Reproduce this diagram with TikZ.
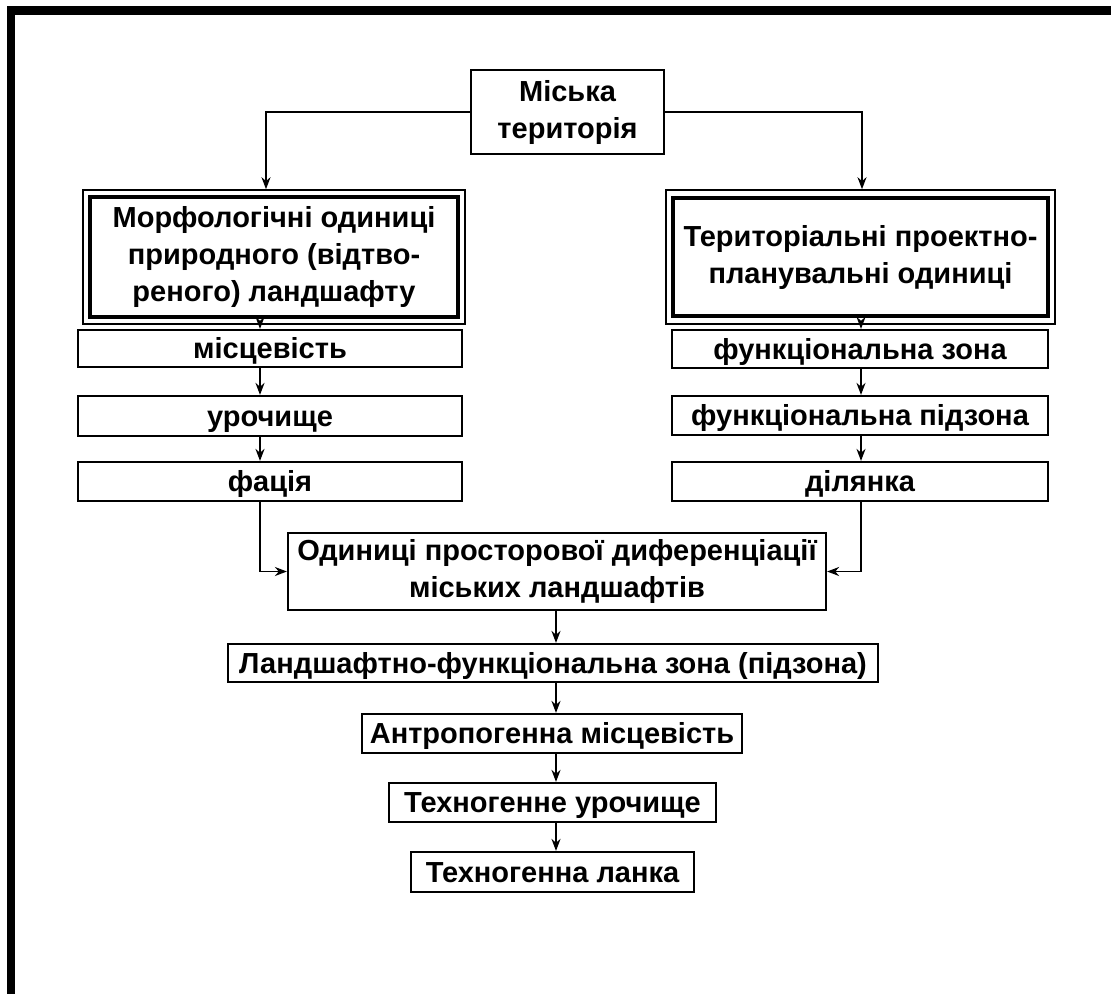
\documentclass[tikz,border=0pt]{standalone}
\usepackage{fontspec}
\setmainfont{Liberation Sans}
\usetikzlibrary{arrows.meta}

\begin{document}
\begin{tikzpicture}[x = 1pt, y = -1pt,
  box/.style = {draw, line width = 2.2pt, align = center, inner sep = 0pt,
    font = \bfseries\fontsize{29}{37}\selectfont},
  onebox/.style = {draw, line width = 2.2pt, inner sep = 0pt,
    text height = 21pt, text depth = 1pt,
    font = \bfseries\fontsize{29}{37}\selectfont},
  inbox/.style = {box, line width = 4pt},
  outbox/.style = {draw, line width = 1.6pt, inner sep = 0pt},
  arr/.style = {line width = 1.8pt, -{Stealth[length = 12pt, width = 9pt]}}]

\useasboundingbox (0, 0) rectangle (1111, 994);
\fill (7, 6) rectangle (15, 994);
\fill (7, 6) rectangle (1111, 15);

\coordinate (ltc) at (266, 0);
\coordinate (rtc) at (862, 0);
\coordinate (lc) at (260, 0);
\coordinate (rc) at (861, 0);
\coordinate (mc) at (556, 0);

\node[box, minimum width = 193pt, minimum height = 84pt] (terr) at (567.5, 112) {Міська\\територія};

\node[outbox, minimum width = 382pt, minimum height = 134pt] (morphout) at (274, 257) {};
\node[inbox, minimum width = 368pt, minimum height = 120pt] (morph) at (274, 257) {Морфологічні одиниці\\природного (відтво-\\реного) ландшафту};
\node[outbox, minimum width = 389pt, minimum height = 134pt] (planout) at (860.5, 257) {};
\node[inbox, minimum width = 375pt, minimum height = 118pt] (plan) at (860.5, 257) {Територіальні проектно-\\планувальні одиниці};

\node[onebox, minimum width = 384pt, minimum height = 37pt] (mis) at (270, 348.5) {місцевість};
\node[onebox, minimum width = 384pt, minimum height = 40pt] (uro) at (270, 416) {урочище};
\node[onebox, minimum width = 384pt, minimum height = 39pt] (fac) at (270, 481.5) {фація};

\node[onebox, minimum width = 376pt, minimum height = 38pt] (fz) at (860, 349) {функціональна зона};
\node[onebox, minimum width = 376pt, minimum height = 39pt] (fpz) at (860, 415.5) {функціональна підзона};
\node[onebox, minimum width = 376pt, minimum height = 39pt] (dil) at (860, 481.5) {ділянка};

\node[box, minimum width = 538pt, minimum height = 77pt] (diff) at (557, 571.5) {Одиниці просторової диференціації\\міських ландшафтів};
\node[onebox, minimum width = 650pt, minimum height = 38pt] (lfz) at (553, 663) {Ландшафтно-функціональна зона (підзона)};
\node[onebox, minimum width = 380pt, minimum height = 39pt] (antr) at (552, 733.5) {Антропогенна місцевість};
\node[onebox, minimum width = 327pt, minimum height = 39pt] (turo) at (552.5, 802.5) {Техногенне урочище};
\node[onebox, minimum width = 283pt, minimum height = 40pt] (tlan) at (552.5, 872) {Техногенна ланка};

\draw[arr] (terr.west) -| (morphout.north -| ltc);
\draw[arr] (terr.east) -| (planout.north -| rtc);

\draw[arr] (morphout.south -| lc) -- (mis.north -| lc);
\draw[arr] (mis.south -| lc) -- (uro.north -| lc);
\draw[arr] (uro.south -| lc) -- (fac.north -| lc);
\draw[arr] (fac.south -| lc) |- (diff.west);

\draw[arr] (planout.south -| rc) -- (fz.north -| rc);
\draw[arr] (fz.south -| rc) -- (fpz.north -| rc);
\draw[arr] (fpz.south -| rc) -- (dil.north -| rc);
\draw[arr] (dil.south -| rc) |- (diff.east);

\draw[arr] (diff.south -| mc) -- (lfz.north -| mc);
\draw[arr] (lfz.south -| mc) -- (antr.north -| mc);
\draw[arr] (antr.south -| mc) -- (turo.north -| mc);
\draw[arr] (turo.south -| mc) -- (tlan.north -| mc);

\end{tikzpicture}
\end{document}
